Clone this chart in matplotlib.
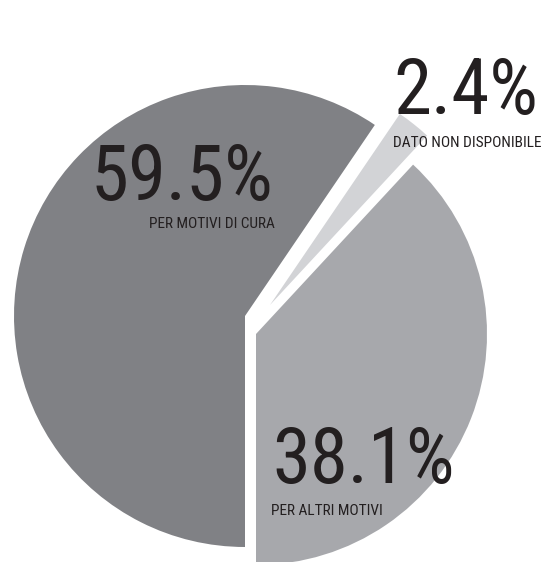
import matplotlib
matplotlib.use('Agg')
import matplotlib.pyplot as plt
from matplotlib import font_manager

# Data (shares in percent, drawn counter-clockwise from the bottom)
shares = [38.1, 2.4, 59.5]
big_labels = ['38.1%', '2.4%', '59.5%']
sub_labels = ['PER ALTRI MOTIVI', 'DATO NON DISPONIBILE', 'PER MOTIVI DI CURA']
colors = ['#a7a8ac', '#d2d3d6', '#808185']

# Layout (pixels, y measured upward from the bottom of the figure)
W, H = 545, 562
BASE_CENTER = (250, 240)
RADIUS = 231
# shift of each slice from the common centre
SHIFTS = [(6, -12), (20, 17), (-5, 6)]
# (x, baseline, align) for the numbers and the captions
BIG_POS = [(272, 79, 'left'), (393, 448, 'left'), (273, 362, 'right')]
SUB_POS = [(271, 47, 'left'), (393, 415, 'left'), (275, 334, 'right')]
INK = '#231f20'

# pick the narrowest family that is installed
names = {f.name for f in font_manager.fontManager.ttflist}
family = 'DejaVu Sans'
for cand in ['Roboto Condensed', 'Liberation Sans Narrow', 'DejaVu Sans']:
    if cand in names:
        family = cand
        break

fig = plt.figure(figsize=(W / 100, H / 100), dpi=100)
ax = fig.add_axes([0, 0, 1, 1])
wedges, _ = ax.pie(shares, colors=colors, startangle=-90, counterclock=True,
                   radius=RADIUS, center=BASE_CENTER,
                   wedgeprops=dict(linewidth=0))
for w, (dx, dy) in zip(wedges, SHIFTS):
    w.set_center((BASE_CENTER[0] + dx, BASE_CENTER[1] + dy))
ax.set_xlim(0, W)
ax.set_ylim(0, H)
ax.set_aspect('auto')
ax.axis('off')

big = [ax.text(x, y, lab, ha=ha, va='baseline', fontsize=100, color=INK, family=family)
       for lab, (x, y, ha) in zip(big_labels, BIG_POS)]
sub = [ax.text(x, y, lab, ha=ha, va='baseline', fontsize=100, color=INK, family=family)
       for lab, (x, y, ha) in zip(sub_labels, SUB_POS)]

# one size for the numbers and one for the captions, fitted to the reference widths
fig.canvas.draw()
r = fig.canvas.get_renderer()
big_size = 100 * 186 / big[2].get_window_extent(r).width
big_size = min(big_size, 100 * 145 / big[1].get_window_extent(r).width)
sub_size = 100 * 149 / sub[1].get_window_extent(r).width
for t in big:
    t.set_fontsize(big_size)
for t in sub:
    t.set_fontsize(sub_size)

fig.savefig('out.png', dpi=100)
